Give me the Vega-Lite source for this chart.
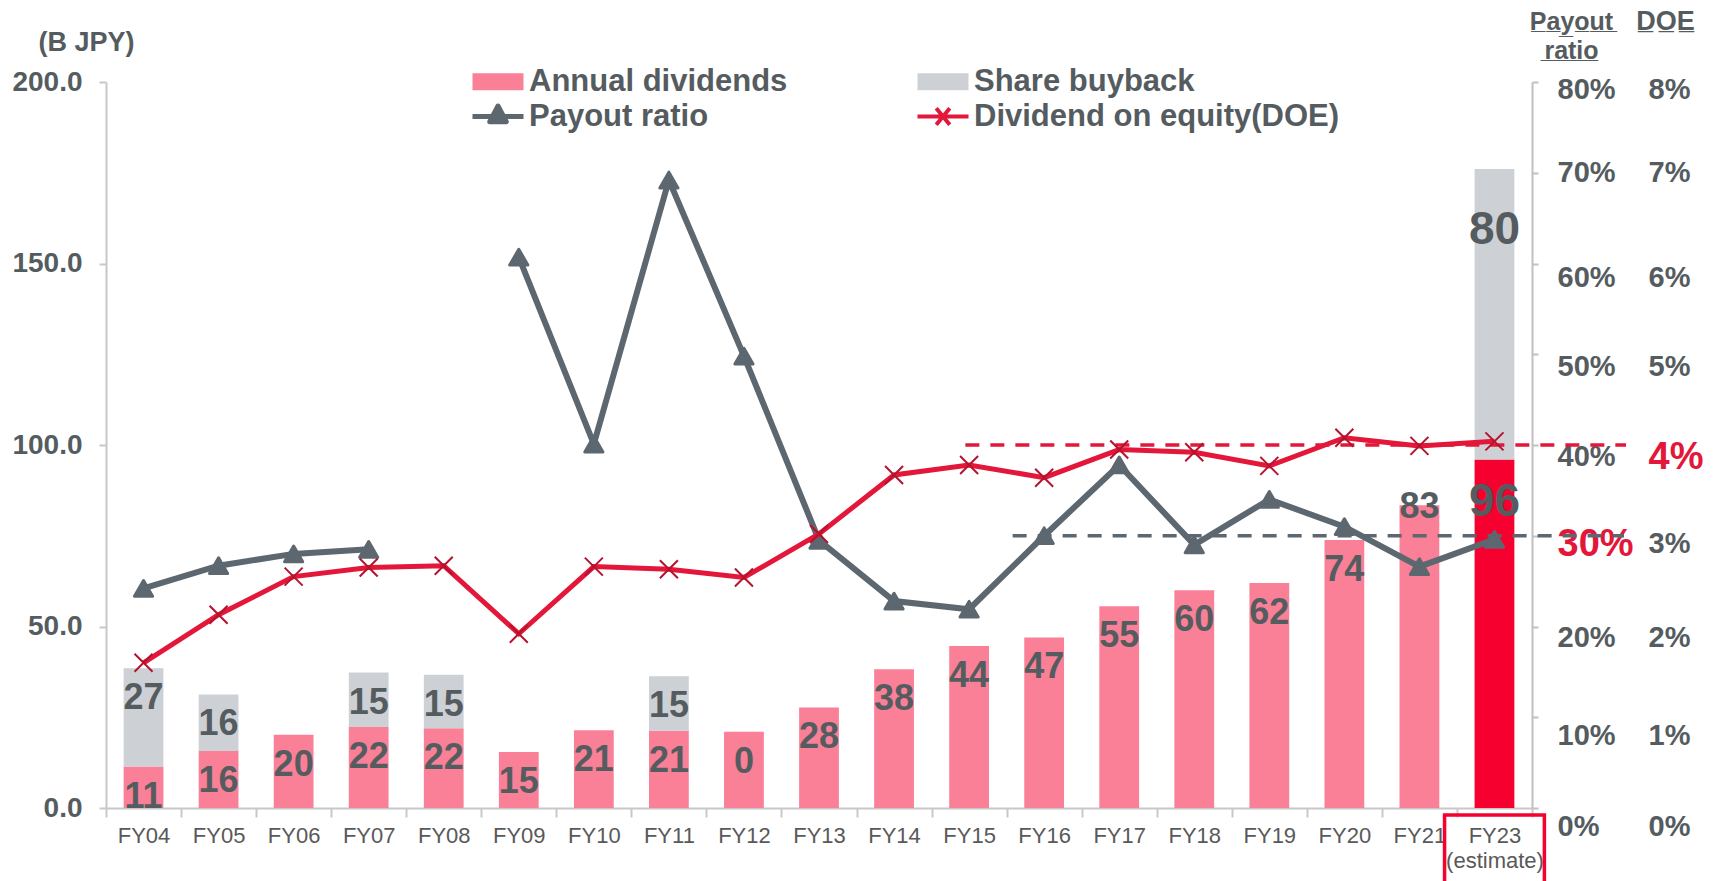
{
  "$schema": "https://vega.github.io/schema/vega-lite/v6.json",
  "width": 1426,
  "height": 726,
  "autosize": {"type": "none"},
  "padding": {"left": 106, "top": 82, "right": 183, "bottom": 73},
  "background": "white",
  "config": {"view": {"stroke": null}, "font": "Liberation Sans", "axis": {"grid": false}},
  "datasets": {
    "bars": [
      {"fy": "FY04", "series": "Annual dividends", "value": 11.4, "label": "11"},
      {"fy": "FY04", "series": "Share buyback", "value": 27.1, "label": "27"},
      {"fy": "FY05", "series": "Annual dividends", "value": 15.7, "label": "16"},
      {"fy": "FY05", "series": "Share buyback", "value": 15.6, "label": "16"},
      {"fy": "FY06", "series": "Annual dividends", "value": 20.2, "label": "20"},
      {"fy": "FY07", "series": "Annual dividends", "value": 22.3, "label": "22"},
      {"fy": "FY07", "series": "Share buyback", "value": 15.0, "label": "15"},
      {"fy": "FY08", "series": "Annual dividends", "value": 22.0, "label": "22"},
      {"fy": "FY08", "series": "Share buyback", "value": 14.7, "label": "15"},
      {"fy": "FY09", "series": "Annual dividends", "value": 15.4, "label": "15"},
      {"fy": "FY10", "series": "Annual dividends", "value": 21.4, "label": "21"},
      {"fy": "FY11", "series": "Annual dividends", "value": 21.3, "label": "21"},
      {"fy": "FY11", "series": "Share buyback", "value": 15.0, "label": "15"},
      {"fy": "FY12", "series": "Annual dividends", "value": 21.0, "label": "0"},
      {"fy": "FY13", "series": "Annual dividends", "value": 27.7, "label": "28"},
      {"fy": "FY14", "series": "Annual dividends", "value": 38.2, "label": "38"},
      {"fy": "FY15", "series": "Annual dividends", "value": 44.6, "label": "44"},
      {"fy": "FY16", "series": "Annual dividends", "value": 47.0, "label": "47"},
      {"fy": "FY17", "series": "Annual dividends", "value": 55.6, "label": "55"},
      {"fy": "FY18", "series": "Annual dividends", "value": 60.0, "label": "60"},
      {"fy": "FY19", "series": "Annual dividends", "value": 62.0, "label": "62"},
      {"fy": "FY20", "series": "Annual dividends", "value": 73.8, "label": "74"},
      {"fy": "FY21", "series": "Annual dividends", "value": 83.4, "label": "83"},
      {"fy": "FY23", "series": "Annual dividends", "value": 96.0, "label": "96"},
      {"fy": "FY23", "series": "Share buyback", "value": 80.0, "label": "80"}
    ],
    "ratios": [
      {"fy": "FY04", "payout": 0.242, "doe": 0.0160},
      {"fy": "FY05", "payout": 0.267, "doe": 0.0213},
      {"fy": "FY06", "payout": 0.280, "doe": 0.0255},
      {"fy": "FY07", "payout": 0.285, "doe": 0.0265},
      {"fy": "FY08", "payout": null, "doe": 0.0267},
      {"fy": "FY09", "payout": 0.607, "doe": 0.0192},
      {"fy": "FY10", "payout": 0.401, "doe": 0.0266},
      {"fy": "FY11", "payout": 0.692, "doe": 0.0263},
      {"fy": "FY12", "payout": 0.498, "doe": 0.0254},
      {"fy": "FY13", "payout": 0.295, "doe": 0.0302},
      {"fy": "FY14", "payout": 0.228, "doe": 0.0367},
      {"fy": "FY15", "payout": 0.219, "doe": 0.0378},
      {"fy": "FY16", "payout": 0.300, "doe": 0.0364},
      {"fy": "FY17", "payout": 0.378, "doe": 0.0395},
      {"fy": "FY18", "payout": 0.290, "doe": 0.0392},
      {"fy": "FY19", "payout": 0.340, "doe": 0.0377},
      {"fy": "FY20", "payout": 0.310, "doe": 0.0408},
      {"fy": "FY21", "payout": 0.266, "doe": 0.0399},
      {"fy": "FY23", "payout": 0.296, "doe": 0.0404}
    ]
  },
  "layer": [
    {
      "data": {"name": "bars"},
      "transform": [
        {"stack": "value", "groupby": ["fy"], "sort": [{"field": "series", "order": "ascending"}], "as": ["v0", "v1"]}
      ],
      "layer": [
        {
          "mark": {"type": "bar", "width": {"band": 0.53}},
          "encoding": {
            "x": {
              "field": "fy", "type": "nominal",
              "scale": {"domain": ["FY04","FY05","FY06","FY07","FY08","FY09","FY10","FY11","FY12","FY13","FY14","FY15","FY16","FY17","FY18","FY19","FY20","FY21","FY23"], "paddingInner": 0, "paddingOuter": 0},
              "axis": {
                "title": null, "labelAngle": 0, "labelFontSize": 22, "labelColor": "#595959", "labelFont": "Liberation Sans",
                "labelPadding": 8, "tickBand": "extent", "tickSize": 9, "tickColor": "#c8c8c8", "tickWidth": 2,
                "domainColor": "#c8c8c8", "domainWidth": 2, "labelLineHeight": 25,
                "labelExpr": "datum.value === 'FY23' ? ['FY23', '(estimate)'] : datum.value"
              }
            },
            "y": {
              "field": "v1", "type": "quantitative",
              "scale": {"domain": [0, 200], "nice": false},
              "axis": {
                "title": "(B JPY)", "titleAngle": 0, "titleAlign": "center", "titleBaseline": "alphabetic", "titleX": -20, "titleY": -32,
                "titleFontSize": 27, "titleFontWeight": "bold", "titleColor": "#555c5f",
                "values": [0, 50, 100, 150, 200], "format": ".1f",
                "labelFontSize": 28, "labelFontWeight": "bold", "labelColor": "#555c5f", "labelPadding": 17,
                "tickSize": 7, "tickColor": "#c8c8c8", "tickWidth": 2, "domainColor": "#c8c8c8", "domainWidth": 2
              }
            },
            "y2": {"field": "v0"},
            "color": {
              "condition": {"test": "datum.fy === 'FY23' && datum.series === 'Annual dividends'", "value": "#f5002f"},
              "field": "series", "type": "nominal",
              "scale": {"domain": ["Annual dividends", "Payout ratio", "Share buyback", "Dividend on equity(DOE)"], "range": ["#f98096", "#5d6770", "#cdd1d5", "#e3173a"]},
              "legend": {
                "title": null, "orient": "none", "legendX": 366, "legendY": -16, "columns": 2, "columnPadding": 127, "rowPadding": 3,
                "labelFont": "Liberation Sans", "labelFontSize": 31, "labelFontWeight": "bold", "labelColor": "#555c5f", "labelLimit": 600,
                "symbolSize": 900, "symbolOffset": 0, "labelOffset": 26, "symbolStrokeWidth": 0,
                "encode": {
                  "symbols": {
                    "update": {
                      "shape": {"signal": "datum.value === 'Payout ratio' ? 'M-1,0H2.4M0.15,0.35L0.7,-0.7L1.25,0.35Z' : (datum.value === 'Dividend on equity(DOE)' ? 'M-1,0H2.4M0.25,-0.55L1.15,0.55M0.25,0.55L1.15,-0.55' : 'M-1,-0.57H2.4V0.57H-1Z')"},
                      "fill": {"signal": "datum.value === 'Annual dividends' ? '#f98096' : (datum.value === 'Share buyback' ? '#cdd1d5' : (datum.value === 'Payout ratio' ? '#5d6770' : 'transparent'))"},
                      "stroke": {"signal": "datum.value === 'Payout ratio' ? '#5d6770' : (datum.value === 'Dividend on equity(DOE)' ? '#e3173a' : 'transparent')"},
                      "strokeWidth": {"signal": "datum.value === 'Payout ratio' ? 5 : (datum.value === 'Dividend on equity(DOE)' ? 4 : 0)"},
                      "strokeJoin": {"value": "round"},
                      "size": {"value": 900},
                      "opacity": {"value": 1}
                    }
                  }
                }
              }
            }
          }
        },
        {
          "transform": [{"filter": "datum.fy !== 'FY21' && datum.fy !== 'FY23'"}],
          "mark": {"type": "text", "dy": 30, "fontSize": 36, "fontWeight": "bold", "color": "#555c5f", "baseline": "middle", "font": "Liberation Sans"},
          "encoding": {
            "x": {"field": "fy", "type": "nominal"},
            "y": {"field": "v1", "type": "quantitative"},
            "text": {"field": "label"}
          }
        },
        {
          "transform": [{"filter": "datum.fy === 'FY21'"}],
          "mark": {"type": "text", "dy": 2, "fontSize": 36, "fontWeight": "bold", "color": "#555c5f", "baseline": "middle", "font": "Liberation Sans"},
          "encoding": {
            "x": {"field": "fy", "type": "nominal"},
            "y": {"field": "v1", "type": "quantitative"},
            "text": {"field": "label"}
          }
        },
        {
          "transform": [{"filter": "datum.fy === 'FY23' && datum.series === 'Annual dividends'"}],
          "mark": {"type": "text", "dy": 42, "fontSize": 46, "fontWeight": "bold", "color": "#555c5f", "baseline": "middle", "font": "Liberation Sans"},
          "encoding": {
            "x": {"field": "fy", "type": "nominal"},
            "y": {"field": "v1", "type": "quantitative"},
            "text": {"field": "label"}
          }
        },
        {
          "transform": [{"filter": "datum.fy === 'FY23' && datum.series === 'Share buyback'"}],
          "mark": {"type": "text", "dy": 61, "fontSize": 46, "fontWeight": "bold", "color": "#555c5f", "baseline": "middle", "font": "Liberation Sans"},
          "encoding": {
            "x": {"field": "fy", "type": "nominal"},
            "y": {"field": "v1", "type": "quantitative"},
            "text": {"field": "label"}
          }
        },
        {
          "transform": [{"filter": "datum.fy === 'FY23' && datum.series === 'Annual dividends'"}],
          "mark": {"type": "bar", "filled": false, "stroke": "#f5002f", "strokeWidth": 3.5, "width": {"band": 1.33}, "clip": false},
          "encoding": {
            "x": {"field": "fy", "type": "nominal"},
            "y": {"datum": -1.9},
            "y2": {"datum": -26}
          }
        }
      ]
    },
    {
      "data": {"name": "ratios"},
      "layer": [
        {
          "data": {"values": [{"target": 0.3}]},
          "mark": {"type": "rule", "strokeDash": [14, 11], "strokeWidth": 3.5, "color": "#5d6770", "x2Offset": 92},
          "encoding": {
            "x": {"datum": "FY16", "bandPosition": 0.08},
            "x2": {"datum": "FY23", "bandPosition": 1},
            "y": {"field": "target", "type": "quantitative"}
          }
        },
        {
          "mark": {"type": "line", "color": "#5d6770", "strokeWidth": 6, "invalid": "break-paths-show-domains"},
          "encoding": {
            "x": {"field": "fy", "type": "nominal"},
            "y": {
              "field": "payout", "type": "quantitative",
              "scale": {"domain": [0, 0.8], "nice": false},
              "axis": {
                "orient": "right",
                "title": ["P\u0332a\u0332y\u0332o\u0332u\u0332t\u0332", "r\u0332a\u0332t\u0332i\u0332o\u0332"],
                "titleAngle": 0, "titleAlign": "center", "titleBaseline": "alphabetic", "titleX": 39, "titleY": -53, "titleLineHeight": 29,
                "titleFontSize": 25, "titleFontWeight": "bold", "titleColor": "#555c5f",
                "values": [0, 0.1, 0.2, 0.3, 0.4, 0.5, 0.6, 0.7, 0.8], "format": ".0%",
                "labelFontSize": {"condition": {"test": "abs(datum.value - 0.3) < 0.001", "value": 38}, "value": 29},
                "labelColor": {"condition": {"test": "abs(datum.value - 0.3) < 0.001", "value": "#e3173a"}, "value": "#555c5f"},
                "labelOffset": {"expr": "datum.value > 0.75 ? 7 : datum.value > 0.65 ? 0 : datum.value > 0.55 ? 14 : datum.value > 0.45 ? 12 : datum.value > 0.35 ? 11 : datum.value > 0.25 ? 9 : datum.value > 0.15 ? 11 : 18"},
                "labelFontWeight": "bold", "labelPadding": 19, "labelAlign": "left",
                "tickSize": 6, "tickColor": "#c0c0c0", "tickWidth": 2, "domainColor": "#c0c0c0", "domainWidth": 2
              }
            }
          }
        },
        {
          "mark": {"type": "point", "shape": "triangle-up", "filled": true, "size": 330, "color": "#5d6770", "stroke": "#5d6770", "opacity": 1, "strokeWidth": 3, "strokeJoin": "round"},
          "encoding": {
            "x": {"field": "fy", "type": "nominal"},
            "y": {"field": "payout", "type": "quantitative"}
          }
        }
      ]
    },
    {
      "data": {"name": "ratios"},
      "layer": [
        {
          "data": {"values": [{"target": 0.04}]},
          "mark": {"type": "rule", "strokeDash": [14, 11], "strokeWidth": 3.5, "color": "#e3173a", "x2Offset": 94},
          "encoding": {
            "x": {"datum": "FY15", "bandPosition": 0.45},
            "x2": {"datum": "FY23", "bandPosition": 1},
            "y": {"field": "target", "type": "quantitative"}
          }
        },
        {
          "mark": {"type": "line", "color": "#e3173a", "strokeWidth": 5},
          "encoding": {
            "x": {"field": "fy", "type": "nominal"},
            "y": {
              "field": "doe", "type": "quantitative",
              "scale": {"domain": [0, 0.08], "nice": false},
              "axis": {
                "orient": "right", "offset": 112,
                "title": "D\u0332O\u0332E\u0332",
                "titleAngle": 0, "titleAlign": "center", "titleBaseline": "alphabetic", "titleX": 21, "titleY": -53,
                "titleFontSize": 27, "titleFontWeight": "bold", "titleColor": "#555c5f",
                "values": [0, 0.01, 0.02, 0.03, 0.04, 0.05, 0.06, 0.07, 0.08], "format": ".0%",
                "labelFontSize": {"condition": {"test": "abs(datum.value - 0.04) < 0.0001", "value": 38}, "value": 29},
                "labelColor": {"condition": {"test": "abs(datum.value - 0.04) < 0.0001", "value": "#e3173a"}, "value": "#555c5f"},
                "labelOffset": {"expr": "datum.value > 0.075 ? 7 : datum.value > 0.065 ? 0 : datum.value > 0.055 ? 14 : datum.value > 0.045 ? 12 : datum.value > 0.035 ? 12 : datum.value > 0.025 ? 8 : datum.value > 0.015 ? 11 : 18"},
                "labelFontWeight": "bold", "labelPadding": 4, "labelAlign": "left",
                "ticks": false, "domain": false
              }
            }
          }
        },
        {
          "mark": {"type": "point", "shape": "M-1,-1L1,1M-1,1L1,-1", "filled": false, "size": 324, "color": "#b5122d", "strokeWidth": 2, "opacity": 1},
          "encoding": {
            "x": {"field": "fy", "type": "nominal"},
            "y": {"field": "doe", "type": "quantitative"}
          }
        }
      ]
    }
  ],
  "resolve": {"scale": {"y": "independent"}}
}
